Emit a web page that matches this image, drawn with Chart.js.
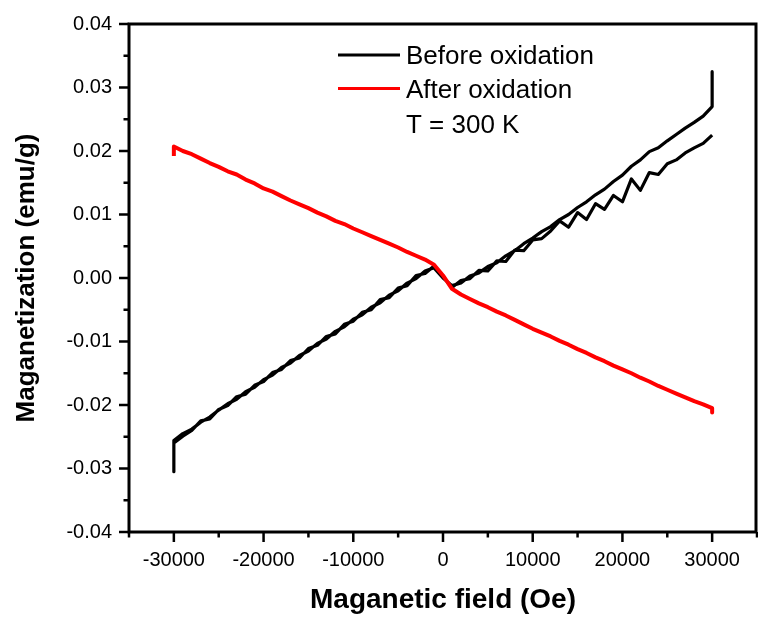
<!DOCTYPE html>
<html>
<head>
<meta charset="utf-8">
<script src="https://cdn.jsdelivr.net/npm/chart.js@4.4.1/dist/chart.umd.min.js"></script>
<style>
  html, body { margin: 0; padding: 0; background: #fff; }
  #wrap { width: 758px; height: 619px; }
</style>
</head>
<body>
<div id="wrap"><canvas id="mhChart" width="758" height="619"></canvas></div>
<script>
const fieldOe = [
  -30000, -29000, -28000, -27000, -26000, -25000, -24000, -23000, -22000, -21000,
  -20000, -19000, -18000, -17000, -16000, -15000, -14000, -13000, -12000, -11000,
  -10000, -9000, -8000, -7000, -6000, -5000, -4000, -3000, -2000, -1000,
  0, 1000, 2000, 3000, 4000, 5000, 6000, 7000, 8000, 9000,
  10000, 11000, 12000, 13000, 14000, 15000, 16000, 17000, 18000, 19000,
  20000, 21000, 22000, 23000, 24000, 25000, 26000, 27000, 28000, 29000,
  30000
];

// before oxidation, field sweep up (-30 kOe -> +30 kOe)
const beforeUp = [
  -0.0260, -0.0249, -0.0240, -0.0225, -0.0222, -0.0207, -0.0201, -0.0187, -0.0183, -0.0169,
  -0.0163, -0.0149, -0.0144, -0.0130, -0.0126, -0.0111, -0.0106, -0.0092, -0.0088, -0.0073,
  -0.0068, -0.0054, -0.0050, -0.0034, -0.0031, -0.0016, -0.0012, 0.0004, 0.0007, 0.0019,
  0.0002, -0.0015, -0.0004, -0.0001, 0.0012, 0.0011, 0.0027, 0.0026, 0.0044, 0.0043,
  0.0060, 0.0062, 0.0074, 0.0090, 0.0080, 0.0103, 0.0092, 0.0117, 0.0108, 0.0130,
  0.0120, 0.0156, 0.0138, 0.0166, 0.0163, 0.0180, 0.0186, 0.0197, 0.0205, 0.0212,
  0.0225
];

// before oxidation, field sweep down (+30 kOe -> -30 kOe), listed by ascending field
const beforeDown = [
  -0.0256, -0.0245, -0.0238, -0.0227, -0.0219, -0.0208, -0.0198, -0.0191, -0.0179, -0.0172,
  -0.0160, -0.0153, -0.0141, -0.0134, -0.0122, -0.0115, -0.0103, -0.0096, -0.0084, -0.0077,
  -0.0065, -0.0058, -0.0046, -0.0039, -0.0027, -0.0020, -0.0008, -0.0001, 0.0011, 0.0016,
  0.0000, -0.0012, -0.0008, 0.0003, 0.0008, 0.0018, 0.0024, 0.0035, 0.0043, 0.0054,
  0.0063, 0.0073, 0.0081, 0.0092, 0.0100, 0.0111, 0.0120, 0.0131, 0.0140, 0.0152,
  0.0162, 0.0176, 0.0186, 0.0199, 0.0205, 0.0216, 0.0226, 0.0236, 0.0245, 0.0255,
  0.0270
];

const afterOx = [
  0.0207, 0.0200, 0.0195, 0.0188, 0.0181, 0.0175, 0.0168, 0.0163, 0.0155, 0.0149,
  0.0141, 0.0136, 0.0129, 0.0122, 0.0116, 0.0110, 0.0103, 0.0097, 0.0090, 0.0085,
  0.0078, 0.0072, 0.0066, 0.0060, 0.0054, 0.0048, 0.0041, 0.0035, 0.0029, 0.0021,
  0.0004, -0.0017, -0.0026, -0.0033, -0.0040, -0.0046, -0.0053, -0.0059, -0.0066, -0.0073,
  -0.0080, -0.0086, -0.0092, -0.0099, -0.0105, -0.0112, -0.0118, -0.0125, -0.0131, -0.0138,
  -0.0144, -0.0150, -0.0157, -0.0163, -0.0170, -0.0176, -0.0182, -0.0188, -0.0194, -0.0199,
  -0.0205
];

// spikes at the sweep ends: [at +30000, at -30000]
const beforeSpikes = [0.0325, -0.0305];
const afterSpikes = [0.0192, -0.0212];

const seriesLabels = ["Before oxidation", "After oxidation"];
const seriesColors = ["#000000", "#ff0000"];
const noteText = "T = 300 K";

const fontFamily = "'Liberation Sans', Arial, sans-serif";

// black loop: start at +30 kOe, go down, then back up
const beforePath = [{ x: 30000, y: beforeSpikes[0] }];
for (let i = fieldOe.length - 1; i >= 0; i--) beforePath.push({ x: fieldOe[i], y: beforeDown[i] });
beforePath.push({ x: -30000, y: beforeSpikes[1] });
for (let i = 0; i < fieldOe.length; i++) beforePath.push({ x: fieldOe[i], y: beforeUp[i] });

const afterPath = [{ x: -30000, y: afterSpikes[0] }];
for (let i = 0; i < fieldOe.length; i++) afterPath.push({ x: fieldOe[i], y: afterOx[i] });
afterPath.push({ x: 30000, y: afterSpikes[1] });

const framePlugin = {
  id: "frame",
  beforeDraw(chart) {
    const c = chart.ctx;
    c.save();
    c.fillStyle = "#fff";
    c.fillRect(0, 0, chart.width, chart.height);
    c.restore();
  },
  afterDraw(chart) {
    const c = chart.ctx;
    const a = chart.chartArea;
    const xs = chart.scales.x;
    const ys = chart.scales.y;
    c.save();
    c.strokeStyle = "#000";
    c.lineWidth = 3;
    c.strokeRect(a.left, a.top, a.right - a.left - 1, a.bottom - a.top);

    c.lineWidth = 2.5;
    c.beginPath();
    xs.ticks.forEach(t => {
      const px = xs.getPixelForValue(t.value);
      const major = Math.round(t.value / 5000) % 2 === 0;
      c.moveTo(px, a.bottom);
      c.lineTo(px, a.bottom + (major ? 10 : 5.5));
    });
    ys.ticks.forEach(t => {
      const py = ys.getPixelForValue(t.value);
      const major = Math.round(t.value * 200) % 2 === 0;
      c.moveTo(a.left, py);
      c.lineTo(a.left - (major ? 10 : 5.5), py);
    });
    c.stroke();

    // legend inside the plot
    const rows = [55, 88.5];
    c.lineWidth = 3;
    c.lineCap = "butt";
    c.font = "26px " + fontFamily;
    c.textAlign = "left";
    c.textBaseline = "middle";
    seriesLabels.forEach((lab, i) => {
      c.strokeStyle = seriesColors[i];
      c.beginPath();
      c.moveTo(338, rows[i]);
      c.lineTo(400, rows[i]);
      c.stroke();
      c.fillStyle = "#000";
      c.fillText(lab, 406, rows[i] + 2);
    });
    c.fillText(noteText, 406, 125.5);
    c.restore();
  }
};

new Chart(document.getElementById("mhChart"), {
  type: "scatter",
  data: {
    datasets: [
      {
        label: seriesLabels[0],
        data: beforePath,
        showLine: true,
        borderColor: seriesColors[0],
        borderWidth: 3.2,
        pointRadius: 0,
        tension: 0,
        borderJoinStyle: "round",
        order: 1
      },
      {
        label: seriesLabels[1],
        data: afterPath,
        showLine: true,
        borderColor: seriesColors[1],
        borderWidth: 4,
        pointRadius: 0,
        tension: 0,
        borderJoinStyle: "round",
        order: 0
      }
    ]
  },
  options: {
    responsive: false,
    animation: false,
    layout: { padding: { top: 24, right: 1, left: 0, bottom: 0 } },
    plugins: {
      legend: { display: false },
      tooltip: { enabled: false }
    },
    scales: {
      x: {
        type: "linear",
        min: -35000,
        max: 35000,
        afterFit: s => {
          s.height = 87;
          s.paddingLeft = 0;
          s.paddingRight = 0;
        },
        grid: { display: false, drawTicks: false },
        border: { display: false },
        ticks: {
          stepSize: 5000,
          autoSkip: false,
          maxRotation: 0,
          padding: 16,
          color: "#000",
          font: { family: fontFamily, size: 20 },
          callback: v => (Math.round(v / 5000) % 2 === 0 && Math.abs(v) <= 30000 ? String(v) : "")
        },
        title: {
          display: true,
          text: "Maganetic field (Oe)",
          color: "#000",
          font: { family: fontFamily, size: 28, weight: "bold" },
          padding: { top: 0, bottom: 2 }
        }
      },
      y: {
        min: -0.04,
        max: 0.04,
        afterFit: s => {
          s.width = 129;
          s.paddingTop = 0;
          s.paddingBottom = 0;
        },
        grid: { display: false, drawTicks: false },
        border: { display: false },
        ticks: {
          stepSize: 0.005,
          autoSkip: false,
          padding: 17,
          color: "#000",
          font: { family: fontFamily, size: 20 },
          callback: v => (Math.round(v * 200) % 2 === 0 ? Number(v).toFixed(2) : "")
        },
        title: {
          display: true,
          text: "Maganetization (emu/g)",
          color: "#000",
          font: { family: fontFamily, size: 26, weight: "bold" },
          padding: { top: 11, bottom: 0 }
        }
      }
    }
  },
  plugins: [framePlugin]
});
</script>
</body>
</html>
